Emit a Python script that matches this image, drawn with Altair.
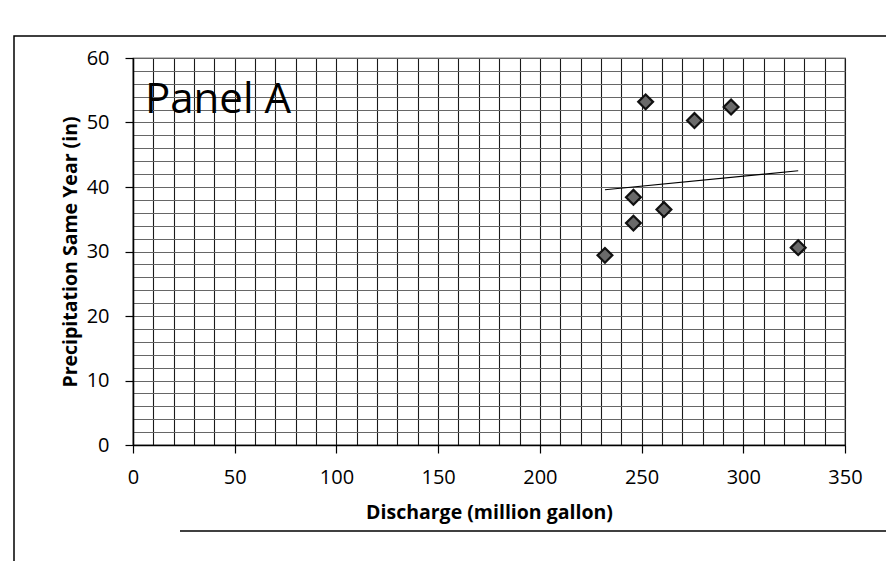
import altair as alt
import pandas as pd

# ---- data ----
discharge = [252, 294, 276, 246, 261, 246, 232, 327]
precip = [53.2, 52.4, 50.3, 38.4, 36.5, 34.4, 29.4, 30.6]
x_grid = list(range(0, 351, 10))
y_grid = list(range(0, 61, 2))
panel_label = ["Panel A"]

df = pd.DataFrame({"discharge": discharge, "precip": precip})

W, H = 712, 387
FONT = "Open Sans"

xscale = alt.Scale(domain=[0, 350], nice=False, zero=False)
yscale = alt.Scale(domain=[0, 60], nice=False, zero=False)

x_axis = alt.Axis(
    values=x_grid, tickCount=len(x_grid),
    labelExpr="datum.value % 50 == 0 ? datum.label : ''",
    labelOverlap=False, labelFlush=False,
    grid=True, gridColor="#1a1a1a", gridWidth=1.1, gridOpacity=1,
    tickOpacity={"condition": {"test": "datum.value % 50 == 0", "value": 1}, "value": 0},
    tickSize=8, tickColor="black", tickWidth=1.2,
    domainColor="black", domainWidth=1.5,
    labelFont=FONT, labelFontSize=20, labelColor="black", labelPadding=14,
    title="Discharge (million gallon)", titleFont=FONT, titleFontSize=19.5,
    titleFontWeight="bold", titleColor="black", titleY=58, titleBaseline="top",
)
y_axis = alt.Axis(
    values=y_grid, tickCount=len(y_grid),
    labelExpr="datum.value % 10 == 0 ? datum.label : ''",
    labelOverlap=False, labelFlush=False,
    grid=True, gridColor="#666", gridWidth=1, gridOpacity=1,
    tickOpacity={"condition": {"test": "datum.value % 10 == 0", "value": 1}, "value": 0},
    tickSize=8, tickColor="black", tickWidth=1.2,
    domainColor="black", domainWidth=1.5,
    labelFont=FONT, labelFontSize=20, labelColor="black", labelPadding=16,
    title="Precipitation Same Year (in)", titleFont=FONT, titleFontSize=19.5,
    titleFontWeight="bold", titleColor="black", titleX=-63, titleBaseline="middle",
)

points = alt.Chart(df).mark_point(
    shape="diamond", filled=True, color="#6a6a6a", stroke="#111",
    strokeWidth=2.2, size=220, opacity=1,
).encode(
    x=alt.X("discharge:Q", scale=xscale, axis=x_axis),
    y=alt.Y("precip:Q", scale=yscale, axis=y_axis),
)

trend = alt.Chart(df).transform_regression("discharge", "precip").mark_line(
    color="black", strokeWidth=1.2
).encode(
    x=alt.X("discharge:Q", scale=xscale),
    y=alt.Y("precip:Q", scale=yscale),
)

label = alt.Chart(pd.DataFrame({"label": panel_label})).mark_text(
    font=FONT, fontSize=42, align="left", baseline="middle", color="black"
).encode(text="label:N", x=alt.value(12), y=alt.value(42))

frame = alt.Chart(pd.DataFrame({"label": panel_label})).mark_rect(
    fillOpacity=0, stroke="black", strokeWidth=1.5
).encode(x=alt.value(-119), x2=alt.value(W + 100), y=alt.value(-22), y2=alt.value(H + 200))

next_panel = alt.Chart(pd.DataFrame({"label": panel_label})).mark_rule(
    color="black", strokeWidth=1.5
).encode(x=alt.value(47), x2=alt.value(W + 100), y=alt.value(473))

chart = alt.layer(frame, next_panel, trend, points, label).properties(
    width=W, height=H,
    autosize=alt.AutoSizeParams(type="none"),
    padding={"left": 125, "top": 50, "right": 41, "bottom": 116},
    background="white",
).configure_view(stroke="black", strokeWidth=1.2)

chart.save("out.html", embed_options={"renderer": "svg", "actions": False})
